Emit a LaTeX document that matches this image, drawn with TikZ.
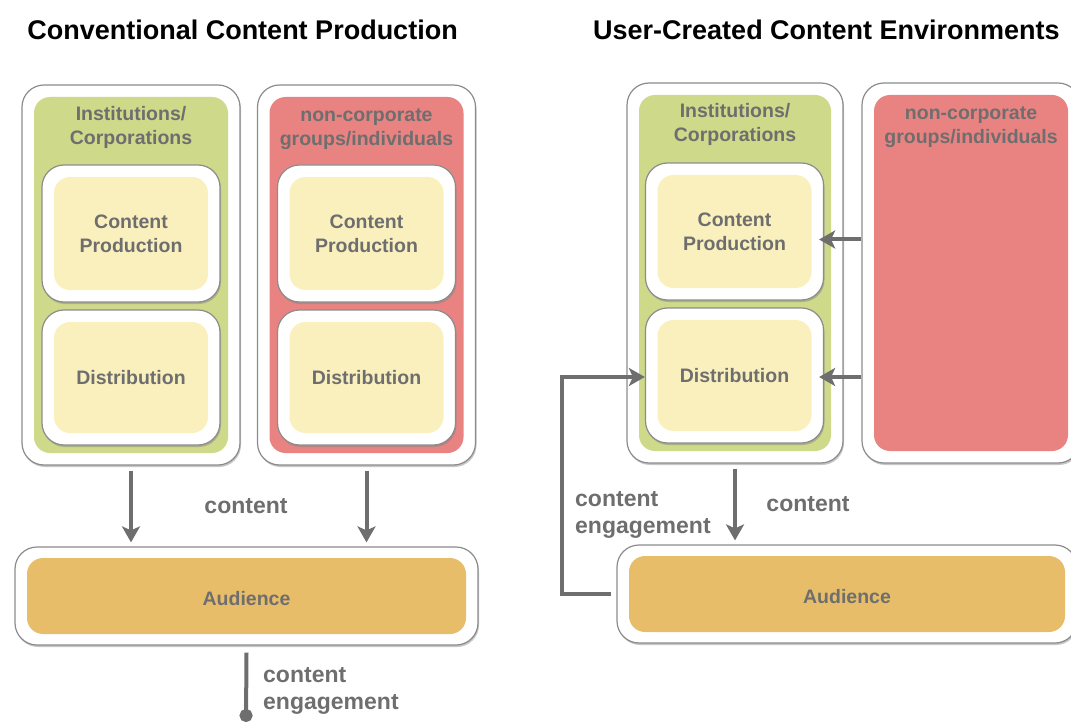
\documentclass[tikz,border=0pt]{standalone}
\usepackage{fontspec}
\setmainfont{Liberation Sans}
\usetikzlibrary{positioning,shadows,arrows.meta}

\definecolor{txtgray}{HTML}{6E6E6E}
\definecolor{instgreen}{HTML}{CED989}
\definecolor{groupred}{HTML}{E98381}
\definecolor{stepyellow}{HTML}{FAF0BE}
\definecolor{audorange}{HTML}{E8BD69}

\tikzset{
  frame/.style={draw=black!45, line width=1.2pt, fill=white, rounded corners=22pt, inner sep=0pt,
    drop shadow={shadow xshift=1pt, shadow yshift=-2pt, opacity=0.45}},
  panel/.style={rounded corners=16pt, inner sep=0pt, align=center,
    font=\bfseries\fontsize{19.5}{24}\selectfont, text=txtgray},
  boxtext/.style={font=\bfseries\fontsize{19.5}{24}\selectfont, text=txtgray, align=center, inner sep=0pt},
  note/.style={font=\bfseries\fontsize{23}{27}\selectfont, text=txtgray, align=left, inner sep=0pt},
  heading/.style={font=\bfseries\fontsize{27}{32}\selectfont, text=black, inner sep=0pt},
  flow/.style={draw=txtgray, line width=4pt, -{Stealth[length=16pt,width=18pt,inset=4pt]}},
}

\begin{document}
\begin{tikzpicture}[x=1pt,y=-1pt]
\useasboundingbox (0,0) rectangle (1071,722);

% left: conventional
\node[heading] (titleL) at (242.5,30) {Conventional Content Production};

\node[frame, minimum width=218pt, minimum height=380pt] (instLf) at (131,275) {};
\node[panel, fill=instgreen, minimum width=194pt, minimum height=356pt] (instL) at (instLf) {};
\node[boxtext, below=9pt of instL.north] {Institutions/\\Corporations};
\node[frame, minimum width=178pt, minimum height=137pt] (prodLf) at (131,233.5) {};
\node[panel, fill=stepyellow, minimum width=154pt, minimum height=113pt] (prodL) at (prodLf) {Content\\Production};
\node[frame, minimum width=178pt, minimum height=135pt] (distLf) at (131,377.5) {};
\node[panel, fill=stepyellow, minimum width=154pt, minimum height=111pt] (distL) at (distLf) {Distribution};

\node[frame, minimum width=218pt, minimum height=380pt] (groupLf) at (366.5,275) {};
\node[panel, fill=groupred, minimum width=194pt, minimum height=356pt] (groupL) at (groupLf) {};
\node[boxtext, below=12pt of groupL.north] {non-corporate\\groups/individuals};
\node[frame, minimum width=178pt, minimum height=137pt] (prodL2f) at (366.5,233.5) {};
\node[panel, fill=stepyellow, minimum width=154pt, minimum height=113pt] (prodL2) at (prodL2f) {Content\\Production};
\node[frame, minimum width=178pt, minimum height=135pt] (distL2f) at (366.5,377.5) {};
\node[panel, fill=stepyellow, minimum width=154pt, minimum height=111pt] (distL2) at (distL2f) {Distribution};

\node[frame, minimum width=463pt, minimum height=98pt] (audLf) at (246.5,596) {};
\node[panel, fill=audorange, minimum width=439pt, minimum height=76pt, text height=20pt] (audL) at (audLf) {Audience};

\draw[flow] ([yshift=-5pt]instLf.south) -- ([yshift=4pt]audLf.north -| instLf.south);
\draw[flow] ([yshift=-5pt]groupLf.south) -- ([yshift=4pt]audLf.north -| groupLf.south);
\node[note] (contentL) at (246,506) {content};

\coordinate (engL) at (246,722);
\draw[draw=txtgray, line width=4pt, -{Circle[length=13pt]}] ([yshift=-7pt]audLf.south) -- (engL);
\node[note, anchor=west] (engLabelL) at (263,691) {content\\engagement};

% right: user-created
\node[heading] (titleR) at (826.5,30) {User-Created Content Environments};

\node[frame, minimum width=216pt, minimum height=380pt] (instRf) at (735,273) {};
\node[panel, fill=instgreen, minimum width=192pt, minimum height=356pt] (instR) at (instRf) {};
\node[boxtext, below=8pt of instR.north] {Institutions/\\Corporations};
\node[frame, minimum width=178pt, minimum height=137pt] (prodRf) at (734.5,231.5) {};
\node[panel, fill=stepyellow, minimum width=154pt, minimum height=113pt] (prodR) at (prodRf) {Content\\Production};
\node[frame, minimum width=178pt, minimum height=135pt] (distRf) at (734.5,375.5) {};
\node[panel, fill=stepyellow, minimum width=154pt, minimum height=111pt] (distR) at (distRf) {Distribution};

\node[frame, minimum width=218pt, minimum height=380pt] (groupRf) at (971,273) {};
\node[panel, fill=groupred, minimum width=194pt, minimum height=356pt] (groupR) at (groupRf) {};
\node[boxtext, below=12pt of groupR.north] {non-corporate\\groups/individuals};

\node[frame, minimum width=460pt, minimum height=98pt] (audRf) at (847,594) {};
\node[panel, fill=audorange, minimum width=436pt, minimum height=76pt, text height=20pt] (audR) at (audRf) {Audience};

\draw[flow] ([yshift=-8pt]prodRf.east -| groupRf.west) -- ([xshift=-5pt,yshift=-8pt]prodRf.east);
\draw[flow] ([yshift=-1.5pt]distRf.east -| groupRf.west) -- ([xshift=-5pt,yshift=-1.5pt]distRf.east);
\draw[flow] ([yshift=-5pt]instRf.south) -- ([yshift=4pt]audRf.north -| instRf.south);
\node[note] (contentR) at (808,504) {content};

\coordinate (loopR) at (562,377);
\draw[flow] ([xshift=-5pt]audRf.west) -| (loopR) -- (distRf.west |- loopR);
\node[note, anchor=west] (engLabelR) at (575,514.5) {content\\engagement};
\end{tikzpicture}
\end{document}
